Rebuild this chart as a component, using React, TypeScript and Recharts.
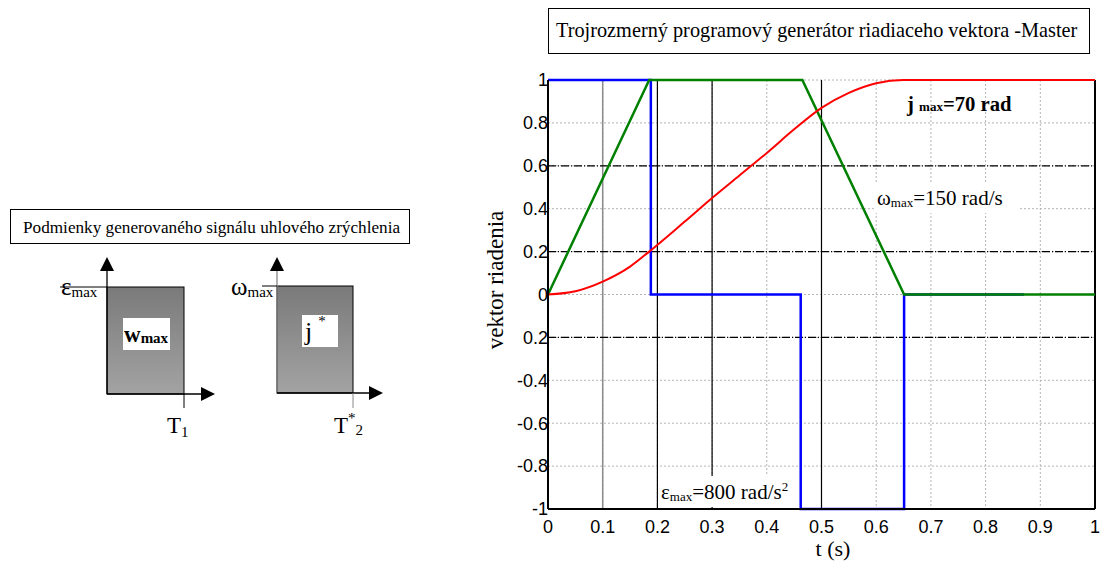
import { CartesianGrid, Line, LineChart, ReferenceLine, XAxis, YAxis } from "recharts";

// acceleration (blue), speed (green), position (red) - normalized to 1
const accelT = [0, 0.188, 0.188, 0.462, 0.462, 0.651, 0.651, 0.87];
const accelV = [1, 1, 0, 0, -1, -1, 0, 0];
const speedT = [0, 0.185, 0.465, 0.651, 1];
const speedV = [0, 1, 1, 0, 0];
const posT = [0, 0.05, 0.1, 0.15, 0.185, 0.25, 0.3, 0.35, 0.4, 0.45, 0.5, 0.55, 0.6, 0.65, 1];
const posV = [0, 0.015, 0.06, 0.13, 0.2, 0.34, 0.45, 0.555, 0.66, 0.77, 0.87, 0.94, 0.985, 1, 1];

const xTicks = [0, 0.1, 0.2, 0.3, 0.4, 0.5, 0.6, 0.7, 0.8, 0.9, 1];
const yTicks = [-1, -0.8, -0.6, -0.4, -0.2, 0, 0.2, 0.4, 0.6, 0.8, 1];
const yTickLabels = ["-1", "-0.8", "-0.6", "-0.4", "0.2", "0", "0.2", "0.4", "0.6", "0.8", "1"];
const solidX = [0.2, 0.3, 0.5];
const dashY = [0.6, 0.2, -0.2];

const toPoints = (ts: number[], vs: number[]) => ts.map((t, i) => ({ t, v: vs[i] }));

const SANS = "'Liberation Sans', Arial, sans-serif";
const SERIF = "'Liberation Serif', 'Times New Roman', serif";

function Arrow({ x1, y1, x2, y2, color = "#000" }: { x1: number; y1: number; x2: number; y2: number; color?: string }) {
  const vertical = x1 === x2;
  const head = vertical
    ? `${x2},${y2} ${x2 - 7},${y2 + 14} ${x2 + 7},${y2 + 14}`
    : `${x2},${y2} ${x2 - 14},${y2 - 7} ${x2 - 14},${y2 + 7}`;
  return (
    <g>
      <line x1={x1} y1={y1} x2={vertical ? x2 : x2 - 12} y2={vertical ? y2 + 12 : y2} stroke={color} strokeWidth={1.3} />
      <polygon points={head} fill="#000" />
    </g>
  );
}

function Diagram() {
  return (
    <svg width={1102} height={564} style={{ position: "absolute", left: 0, top: 0, pointerEvents: "none" }}>
      <defs>
        <linearGradient id="boxFill" x1="0" y1="0" x2="0" y2="1">
          <stop offset="0%" stopColor="#7a7a7a" />
          <stop offset="100%" stopColor="#a3a3a3" />
        </linearGradient>
      </defs>

      {/* left conditions panel */}
      <rect x={10.5} y={209.5} width={399} height={34} fill="#fff" stroke="#000" />
      <text x={23} y={233} fontFamily={SERIF} fontSize={17.2}>Podmienky generovaného signálu uhlového zrýchlenia</text>

      <rect x={107} y={287} width={77} height={107} fill="url(#boxFill)" stroke="#000" strokeWidth={1} />
      <Arrow x1={107} y1={394} x2={107} y2={257} />
      <Arrow x1={107} y1={394} x2={215} y2={394} />
      <line x1={60} y1={287} x2={107} y2={287} stroke="#000" strokeWidth={1} />
      <line x1={184} y1={394} x2={184} y2={408} stroke="#000" strokeWidth={1} />
      <rect x={123} y={318} width={47} height={32} fill="#fff" />
      <text x={124} y={342} fontFamily={SERIF} fontSize={23} fontWeight="bold">w<tspan fontSize={15} dy={1}>max</tspan></text>
      <text x={61} y={295} fontFamily={SERIF} fontSize={25}>ε<tspan fontSize={15} dy={2}>max</tspan></text>
      <text x={167} y={433} fontFamily={SERIF} fontSize={23}>T<tspan fontSize={15} dy={4}>1</tspan></text>

      <rect x={277} y={286} width={76} height={107} fill="url(#boxFill)" stroke="#000" strokeWidth={1} />
      <Arrow x1={277} y1={393} x2={277} y2={257} color="#888" />
      <Arrow x1={277} y1={393} x2={383} y2={393} />
      <line x1={262} y1={286} x2={277} y2={286} stroke="#000" strokeWidth={1} />
      <line x1={353} y1={393} x2={353} y2={408} stroke="#888" strokeWidth={1} />
      <rect x={302} y={315} width={36} height={32} fill="#fff" />
      <text x={305} y={340} fontFamily={SERIF} fontSize={26}>j<tspan fontSize={15} dx={6} dy={-14}>*</tspan></text>
      <text x={231} y={295} fontFamily={SERIF} fontSize={25}>ω<tspan fontSize={15} dy={2}>max</tspan></text>
      <text x={334} y={433} fontFamily={SERIF} fontSize={23}>T<tspan fontSize={15} dy={-10}>*</tspan><tspan fontSize={15} dy={12}>2</tspan></text>

      {/* right chart title */}
      <rect x={548.5} y={8.5} width={541} height={45} fill="#fff" stroke="#000" />
      <text x={556} y={37} fontFamily={SERIF} fontSize={20.3}>Trojrozmerný programový generátor riadiaceho vektora -Master</text>

      {/* annotations */}
      <text x={907} y={111} fontFamily={SERIF} fontSize={20.7} fontWeight="bold">j <tspan fontSize={13}>max</tspan>=70 rad</text>
      <rect x={874} y={183} width={146} height={30} fill="#fff" />
      <text x={877} y={205} fontFamily={SERIF} fontSize={21}>ω<tspan fontSize={13} dy={2}>max</tspan><tspan dy={-2}>=150 rad/s</tspan></text>
      <rect x={660} y={476} width={132} height={31} fill="#fff" />
      <text x={661} y={499} fontFamily={SERIF} fontSize={21}>ε<tspan fontSize={13} dy={2}>max</tspan><tspan dy={-2}>=800 rad/s</tspan><tspan fontSize={13} dy={-8}>2</tspan></text>

      <text x={503} y={280} transform="rotate(-90 503 280)" textAnchor="middle" fontFamily={SERIF} fontSize={23}>vektor riadenia</text>
      <text x={833} y={556} textAnchor="middle" fontFamily={SERIF} fontSize={22}>t (s)</text>
    </svg>
  );
}

export default function App() {
  const tickStyle = { fontSize: 18, fill: "#000", fontFamily: SANS };
  return (
    <div style={{ position: "absolute", left: 0, top: 0, width: 1102, height: 564, background: "#fff" }}>
      <LineChart width={1102} height={564} margin={{ top: 80, right: 7, bottom: 25, left: 488 }}>
        <CartesianGrid stroke="#b4b4b4" strokeDasharray="2 2" />
        <XAxis
          type="number"
          dataKey="t"
          domain={[0, 1]}
          ticks={xTicks}
          height={30}
          tick={tickStyle}
          tickLine={false}
          tickSize={0}
          tickMargin={11}
          axisLine={{ stroke: "#000", strokeWidth: 2 }}
        />
        <YAxis
          type="number"
          domain={[-1, 1]}
          ticks={yTicks}
          width={60}
          tick={tickStyle}
          tickLine={false}
          tickSize={0}
          tickMargin={0}
          axisLine={{ stroke: "#000", strokeWidth: 2 }}
          tickFormatter={(v: number) => yTickLabels[yTicks.findIndex((y) => Math.abs(y - v) < 1e-9)] ?? String(v)}
        />
        <ReferenceLine x={0.1} stroke="#8a8a8a" strokeWidth={1.5} />
        {solidX.map((x) => (
          <ReferenceLine key={x} x={x} stroke="#000" strokeWidth={1.2} />
        ))}
        {dashY.map((y) => (
          <ReferenceLine key={y} y={y} stroke="#000" strokeWidth={1.2} strokeDasharray="8 2 1 2" />
        ))}
        <ReferenceLine x={1} stroke="#000" strokeWidth={2} />
        <Line data={toPoints(accelT, accelV)} dataKey="v" type="linear" stroke="#0000ff" strokeWidth={2.5} dot={false} isAnimationActive={false} />
        <Line data={toPoints(speedT, speedV)} dataKey="v" type="linear" stroke="#008000" strokeWidth={2.5} dot={false} isAnimationActive={false} />
        <Line data={toPoints(posT, posV)} dataKey="v" type="monotone" stroke="#ff0000" strokeWidth={2} dot={false} isAnimationActive={false} />
      </LineChart>
      <Diagram />
    </div>
  );
}
